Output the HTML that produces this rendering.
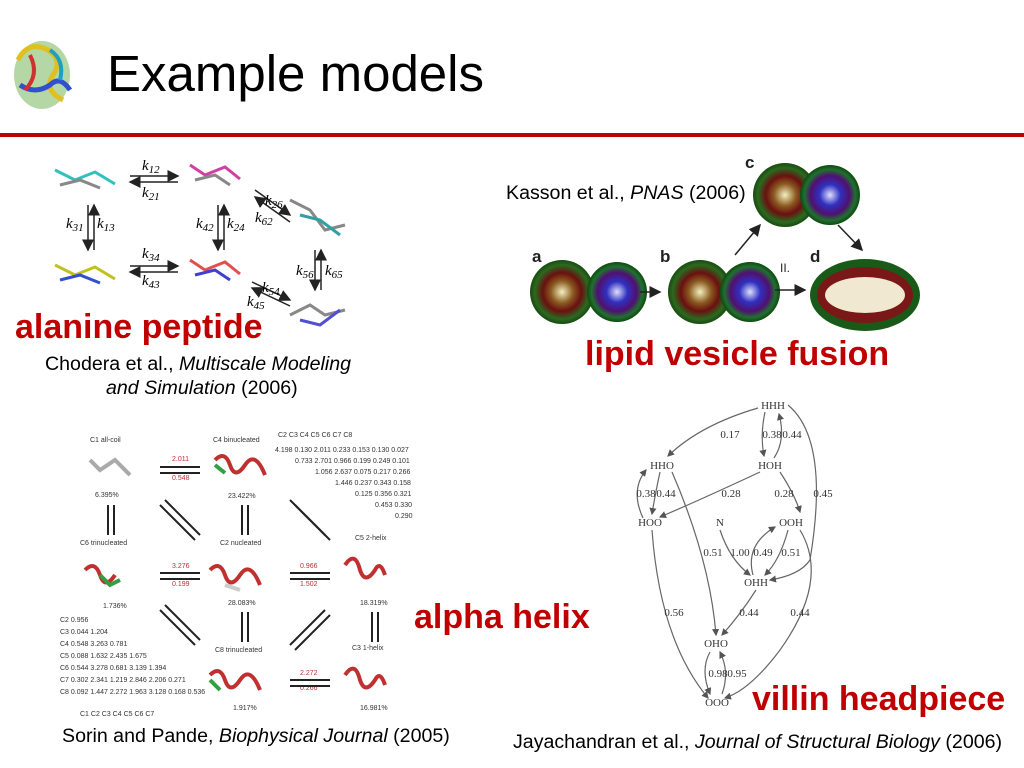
<!DOCTYPE html>
<html><head><meta charset="utf-8"><style>
body{margin:0;width:1024px;height:768px;background:#fff;position:relative;overflow:hidden;font-family:"Liberation Sans",sans-serif}
.t{position:absolute;white-space:nowrap;line-height:1.15}
.red{color:#c00000;font-weight:bold;font-size:34px}
.cap{font-size:19.6px;color:#000}
</style></head><body>
<svg width="1024" height="768" style="position:absolute;left:0;top:0">
<defs>
<radialGradient id="v1"><stop offset="0" stop-color="#f4f0c0"/><stop offset="0.35" stop-color="#8a5a20"/><stop offset="0.6" stop-color="#6a1010"/><stop offset="0.85" stop-color="#2a6a20"/><stop offset="1" stop-color="#1a4a10"/></radialGradient>
<radialGradient id="v2"><stop offset="0" stop-color="#e0e0ff"/><stop offset="0.35" stop-color="#3030c0"/><stop offset="0.65" stop-color="#501070"/><stop offset="0.85" stop-color="#207030"/><stop offset="1" stop-color="#104a10"/></radialGradient>
<marker id="a" markerWidth="6" markerHeight="6" refX="5" refY="3" orient="auto"><path d="M0,0L6,3L0,6z" fill="#555"/></marker>
<marker id="b" markerWidth="8" markerHeight="8" refX="7" refY="4" orient="auto"><path d="M0,0L8,4L0,8z" fill="#222"/></marker>
</defs>
<g>
<ellipse cx="42" cy="75" rx="28" ry="34" fill="#6ab04c" opacity="0.5"/>
<path d="M18,60 q10,-20 30,-10 q15,10 5,25 q-10,15 10,25" stroke="#e0c020" stroke-width="5" fill="none"/>
<path d="M20,85 q15,10 30,0 q10,-10 20,5" stroke="#3050d0" stroke-width="5" fill="none"/>
<path d="M30,55 q10,20 -5,35" stroke="#d03030" stroke-width="4" fill="none"/>
<path d="M50,50 q15,10 10,30" stroke="#20a0c0" stroke-width="4" fill="none"/>
</g>
<line x1="0" y1="135" x2="1024" y2="135" stroke="#c00000" stroke-width="4"/>
<g stroke-width="3" fill="none">
<path d="M55,170 l20,10 l20,-8 l20,12" stroke="#30c0c0"/><path d="M60,185 l20,-5 l20,8" stroke="#888"/>
<path d="M190,165 l15,10 l20,-8 l15,12" stroke="#d040a0"/><path d="M195,180 l20,-5 l15,10" stroke="#888"/>
<path d="M290,200 l20,10 l15,20 l20,-5" stroke="#888"/><path d="M300,215 l20,5 l20,15" stroke="#30a0a0"/>
<path d="M55,265 l20,10 l20,-8 l20,12" stroke="#c0c020"/><path d="M60,280 l20,-5 l20,8" stroke="#3050d0"/>
<path d="M190,260 l15,10 l20,-8 l15,12" stroke="#e05050"/><path d="M195,275 l20,-5 l15,10" stroke="#4040d0"/>
<path d="M290,315 l20,-10 l15,10 l20,-5" stroke="#888"/><path d="M300,320 l20,5 l20,-15" stroke="#5050d0"/>
</g>
<g stroke="#222" stroke-width="1.5" marker-end="url(#b)">
<line x1="130" y1="176" x2="178" y2="176"/><line x1="178" y1="182" x2="130" y2="182"/>
<line x1="88" y1="205" x2="88" y2="250"/><line x1="94" y1="250" x2="94" y2="205"/>
<line x1="218" y1="205" x2="218" y2="250"/><line x1="224" y1="250" x2="224" y2="205"/>
<line x1="130" y1="266" x2="178" y2="266"/><line x1="178" y1="272" x2="130" y2="272"/>
<line x1="255" y1="190" x2="290" y2="215"/><line x1="290" y1="222" x2="255" y2="197"/>
<line x1="315" y1="250" x2="315" y2="290"/><line x1="321" y1="290" x2="321" y2="250"/>
<line x1="252" y1="282" x2="290" y2="300"/><line x1="290" y1="306" x2="252" y2="288"/>
</g>
<g font-family="Liberation Serif,serif" font-style="italic" font-size="15">
<text x="142" y="170">k<tspan font-size="11" dy="3">12</tspan></text><text x="142" y="197">k<tspan font-size="11" dy="3">21</tspan></text>
<text x="66" y="228">k<tspan font-size="11" dy="3">31</tspan></text><text x="97" y="228">k<tspan font-size="11" dy="3">13</tspan></text>
<text x="196" y="228">k<tspan font-size="11" dy="3">42</tspan></text><text x="227" y="228">k<tspan font-size="11" dy="3">24</tspan></text>
<text x="142" y="258">k<tspan font-size="11" dy="3">34</tspan></text><text x="142" y="285">k<tspan font-size="11" dy="3">43</tspan></text>
<text x="265" y="205">k<tspan font-size="11" dy="3">26</tspan></text><text x="255" y="222">k<tspan font-size="11" dy="3">62</tspan></text>
<text x="296" y="275">k<tspan font-size="11" dy="3">56</tspan></text><text x="325" y="275">k<tspan font-size="11" dy="3">65</tspan></text>
<text x="262" y="292">k<tspan font-size="11" dy="3">54</tspan></text><text x="247" y="306">k<tspan font-size="11" dy="3">45</tspan></text>
</g>
<g font-family="Liberation Sans,sans-serif" font-weight="bold" font-size="17" fill="#222">
<text x="532" y="262">a</text><text x="660" y="262">b</text><text x="745" y="168">c</text><text x="810" y="262">d</text>
</g>
<g font-size="12" fill="#222"><text x="778" y="218">I.</text><text x="780" y="272">II.</text></g>
<circle cx="562" cy="292" r="32" fill="url(#v1)"/><circle cx="617" cy="292" r="30" fill="url(#v2)"/>
<circle cx="700" cy="292" r="32" fill="url(#v1)"/><circle cx="750" cy="292" r="30" fill="url(#v2)"/>
<circle cx="785" cy="195" r="32" fill="url(#v1)"/><circle cx="830" cy="195" r="30" fill="url(#v2)"/>
<ellipse cx="865" cy="295" rx="55" ry="36" fill="#1a5a18"/><ellipse cx="865" cy="295" rx="48" ry="28" fill="#7a1818"/><ellipse cx="865" cy="295" rx="40" ry="18" fill="#f0e8d0"/>
<g stroke="#222" stroke-width="1.5" marker-end="url(#b)">
<line x1="640" y1="292" x2="660" y2="292"/><line x1="775" y1="290" x2="805" y2="290"/>
<line x1="735" y1="255" x2="760" y2="225"/><line x1="838" y1="225" x2="862" y2="250"/>
</g>
<g font-family="Liberation Sans,sans-serif" font-size="7" fill="#333">
<text x="90" y="442">C1 all-coil</text><text x="213" y="442">C4 binucleated</text>
<text x="80" y="545">C6 trinucleated</text><text x="220" y="545">C2 nucleated</text><text x="355" y="540">C5 2-helix</text>
<text x="215" y="652">C8 trinucleated</text><text x="352" y="650">C3 1-helix</text>
<text x="95" y="497">6.395%</text><text x="228" y="498">23.422%</text><text x="103" y="608">1.736%</text>
<text x="228" y="605">28.083%</text><text x="360" y="605">18.319%</text><text x="233" y="710">1.917%</text><text x="360" y="710">16.981%</text>
<text x="278" y="437">C2  C3   C4   C5   C6   C7   C8</text>
<text x="275" y="452">4.198 0.130 2.011 0.233 0.153 0.130 0.027</text>
<text x="295" y="463">0.733 2.701 0.966 0.199 0.249 0.101</text>
<text x="315" y="474">1.056 2.637 0.075 0.217 0.266</text>
<text x="335" y="485">1.446 0.237 0.343 0.158</text>
<text x="355" y="496">0.125 0.356 0.321</text>
<text x="375" y="507">0.453 0.330</text><text x="395" y="518">0.290</text>
<text x="60" y="622">C2 0.956</text><text x="60" y="634">C3 0.044 1.204</text><text x="60" y="646">C4 0.548 3.263 0.781</text>
<text x="60" y="658">C5 0.088 1.632 2.435 1.675</text><text x="60" y="670">C6 0.544 3.278 0.681 3.139 1.394</text>
<text x="60" y="682">C7 0.302 2.341 1.219 2.846 2.206 0.271</text><text x="60" y="694">C8 0.092 1.447 2.272 1.963 3.128 0.168 0.536</text>
<text x="80" y="716">C1    C2    C3    C4    C5    C6    C7</text>
</g>
<g fill="#c03030" font-size="7" font-family="Liberation Sans,sans-serif">
<text x="172" y="461">2.011</text><text x="172" y="480" >0.548</text><text x="172" y="568">3.276</text><text x="172" y="586">0.199</text>
<text x="300" y="568">0.966</text><text x="300" y="586">1.502</text><text x="300" y="675">2.272</text><text x="300" y="690">0.266</text>
</g>
<g stroke="#222" stroke-width="2">
<line x1="160" y1="467" x2="200" y2="467"/><line x1="160" y1="473" x2="200" y2="473"/>
<line x1="160" y1="573" x2="200" y2="573"/><line x1="160" y1="579" x2="200" y2="579"/>
<line x1="290" y1="573" x2="330" y2="573"/><line x1="290" y1="579" x2="330" y2="579"/>
<line x1="290" y1="680" x2="330" y2="680"/><line x1="290" y1="686" x2="330" y2="686"/>
<line x1="108" y1="505" x2="108" y2="535"/><line x1="114" y1="505" x2="114" y2="535"/>
<line x1="242" y1="505" x2="242" y2="535"/><line x1="248" y1="505" x2="248" y2="535"/>
<line x1="242" y1="612" x2="242" y2="642"/><line x1="248" y1="612" x2="248" y2="642"/>
<line x1="372" y1="612" x2="372" y2="642"/><line x1="378" y1="612" x2="378" y2="642"/>
<line x1="160" y1="505" x2="195" y2="540"/><line x1="165" y1="500" x2="200" y2="535"/>
<line x1="290" y1="500" x2="325" y2="535"/><line x1="295" y1="505" x2="330" y2="540"/>
<line x1="160" y1="610" x2="195" y2="645"/><line x1="165" y1="605" x2="200" y2="640"/>
<line x1="290" y1="645" x2="325" y2="610"/><line x1="295" y1="650" x2="330" y2="615"/>
</g>
<g fill="none" stroke-width="4">
<path d="M90,460 l10,10 l15,-10 l15,15" stroke="#aaa"/>
<path d="M215,460 q10,-10 15,5 q5,15 15,0 q10,-15 20,10" stroke="#c03030"/><path d="M215,465 l10,8" stroke="#30a040"/>
<path d="M85,570 q10,-10 15,5 q5,15 15,0" stroke="#c03030"/><path d="M100,575 l10,10 l10,-5" stroke="#30a040"/>
<path d="M210,570 q10,-10 15,5 q5,15 15,0 q10,-15 20,10" stroke="#c03030"/><path d="M225,585 l15,5" stroke="#ccc"/>
<path d="M345,565 q10,-15 15,5 q5,15 15,0 q5,-10 10,5" stroke="#c03030"/>
<path d="M210,675 q10,-10 15,5 q5,15 15,0 q10,-15 20,10" stroke="#c03030"/><path d="M210,680 l10,10" stroke="#30a040"/>
<path d="M345,675 q10,-15 15,5 q5,15 15,0 q5,-10 10,5" stroke="#c03030"/>
</g>
<g stroke="#666" stroke-width="1.2" fill="none" marker-end="url(#a)">
<path d="M758,408 Q700,425 668,456"/>
<path d="M765,412 Q760,435 764,456"/><path d="M774,458 Q786,440 779,414"/>
<path d="M760,472 Q700,500 660,517"/>
<path d="M780,472 Q795,495 800,512"/>
<path d="M788,405 Q830,440 810,560 Q800,575 770,580"/>
<path d="M660,472 Q655,495 652,514"/><path d="M643,518 Q630,490 646,470"/>
<path d="M672,472 Q710,560 716,635"/>
<path d="M720,530 Q730,560 750,575"/>
<path d="M753,575 Q745,545 775,527"/>
<path d="M788,530 Q780,560 765,575"/>
<path d="M800,530 Q830,580 780,650 Q750,690 725,698"/>
<path d="M756,590 Q740,615 722,635"/>
<path d="M652,530 Q660,640 708,698"/>
<path d="M710,652 Q700,670 710,694"/><path d="M722,694 Q730,672 720,652"/>
</g>
<g font-family="Liberation Serif,serif" font-size="11" fill="#333" text-anchor="middle">
<text x="773" y="409">HHH</text><text x="662" y="469">HHO</text><text x="770" y="469">HOH</text>
<text x="650" y="526">HOO</text><text x="720" y="526">N</text><text x="791" y="526">OOH</text>
<text x="756" y="586">OHH</text><text x="716" y="647">OHO</text><text x="717" y="706">OOO</text>
<text x="730" y="438">0.17</text><text x="772" y="438">0.38</text><text x="792" y="438">0.44</text>
<text x="646" y="497">0.38</text><text x="666" y="497">0.44</text><text x="731" y="497">0.28</text><text x="784" y="497">0.28</text><text x="823" y="497">0.45</text>
<text x="713" y="556">0.51</text><text x="740" y="556">1.00</text><text x="763" y="556">0.49</text><text x="791" y="556">0.51</text>
<text x="674" y="616">0.56</text><text x="749" y="616">0.44</text><text x="800" y="616">0.44</text>
<text x="718" y="677">0.98</text><text x="737" y="677">0.95</text>
</g>
</svg>
<div class="t" style="left:107px;top:45px;font-size:51px">Example models</div>
<div class="t red" style="left:15px;top:308px">alanine peptide</div>
<div class="t cap" style="left:45px;top:353px">Chodera et al., <i>Multiscale Modeling</i></div>
<div class="t cap" style="left:106px;top:377px"><i>and Simulation</i> (2006)</div>
<div class="t cap" style="left:506px;top:182px">Kasson et al., <i>PNAS</i> (2006)</div>
<div class="t red" style="left:585px;top:335px">lipid vesicle fusion</div>
<div class="t red" style="left:414px;top:598px">alpha helix</div>
<div class="t red" style="left:752px;top:680px">villin headpiece</div>
<div class="t cap" style="left:62px;top:725px">Sorin and Pande, <i>Biophysical Journal</i> (2005)</div>
<div class="t cap" style="left:513px;top:731px">Jayachandran et al., <i>Journal of Structural Biology</i> (2006)</div>
</body></html>
